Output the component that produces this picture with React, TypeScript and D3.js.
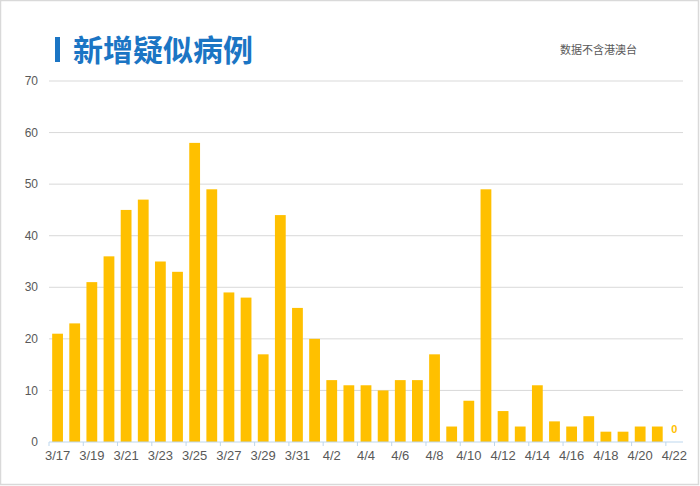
import React from "react";
import * as d3 from "d3";

const dates = [
  "3/17","3/18","3/19","3/20","3/21","3/22","3/23","3/24","3/25","3/26","3/27","3/28","3/29","3/30","3/31",
  "4/1","4/2","4/3","4/4","4/5","4/6","4/7","4/8","4/9","4/10","4/11","4/12","4/13","4/14","4/15","4/16",
  "4/17","4/18","4/19","4/20","4/21","4/22",
];
const suspected = [
  21,23,31,36,45,47,35,33,58,49,29,28,17,44,26,
  20,12,11,11,10,12,12,17,3,8,49,6,3,11,4,3,
  5,2,2,3,3,0,
];
const yTicks = [0,10,20,30,40,50,60,70];
const title = "新增疑似病例";
const note = "数据不含港澳台";

const W = 700, H = 486;
const left = 49, right = 683, top = 81, bottom = 442;
const font = "'Liberation Sans', Arial, sans-serif";
const cjk = "'Noto Sans CJK SC', sans-serif";

export default function App() {
  const x = d3.scaleBand<string>().domain(dates).range([left, right]).paddingInner(0.37).paddingOuter(0.185);
  const y = d3.scaleLinear().domain([0, 70]).range([bottom, top]);
  const step = x.step();
  const tickXs = d3.range(0, dates.length + 1, 2).map((i) => left + i * step);
  return (
    <svg width={W} height={H} style={{ position: "absolute", left: 0, top: 0, background: "#fff" }}>
      <rect x={0.5} y={0.5} width={W - 2} height={H - 2} fill="#fff" stroke="#d9d9d9" strokeWidth={1.5} />
      <rect x={55} y={37} width={5} height={25} fill="#1b75c4" />
      <text x={73} y={61} fontFamily={cjk} fontWeight={700} fontSize={30} fill="#1b75c4">{title}</text>
      <text x={560} y={54} fontFamily={cjk} fontSize={11} fill="#595959">{note}</text>
      {yTicks.map((t) => (
        <g key={t}>
          {t > 0 && <line x1={left} x2={right} y1={y(t)} y2={y(t)} stroke="#d9d9d9" strokeWidth={1} />}
          <text x={38} y={y(t)} dy="0.35em" textAnchor="end" fontFamily={font} fontSize={12} fill="#595959">{t}</text>
        </g>
      ))}
      {dates.map((d, i) => (
        <rect key={d} x={x(d)} y={y(suspected[i])} width={x.bandwidth()} height={bottom - y(suspected[i])} fill="#ffc000" />
      ))}
      <line x1={left} x2={right} y1={bottom} y2={bottom} stroke="#bdd7ee" strokeWidth={1} />
      {tickXs.map((tx, i) => (
        <line key={i} x1={tx} x2={tx} y1={bottom} y2={bottom + 4} stroke="#bdd7ee" strokeWidth={1} />
      ))}
      {dates.map((d, i) =>
        i % 2 === 0 ? (
          <text key={d} x={(x(d) as number) + x.bandwidth() / 2} y={460} textAnchor="middle" fontFamily={font} fontSize={13} fill="#595959">{d}</text>
        ) : null
      )}
      {dates.map((d, i) =>
        suspected[i] === 0 ? (
          <text key={"l" + d} x={(x(d) as number) + x.bandwidth() / 2} y={y(0) - 9} textAnchor="middle" fontFamily={font} fontWeight={700} fontSize={11} fill="#ffc000">{suspected[i]}</text>
        ) : null
      )}
    </svg>
  );
}
